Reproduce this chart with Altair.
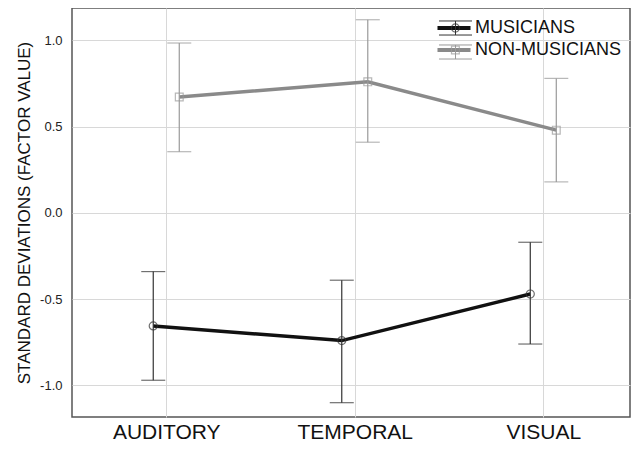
import altair as alt
import pandas as pd

categories = ["AUDITORY", "TEMPORAL", "VISUAL"]
groups = ["MUSICIANS", "NON-MUSICIANS"]
mus_mean = [-0.655, -0.74, -0.47]
mus_low = [-0.97, -1.10, -0.76]
mus_high = [-0.34, -0.39, -0.17]
non_mean = [0.672, 0.76, 0.48]
non_low = [0.355, 0.41, 0.18]
non_high = [0.985, 1.12, 0.78]
y_ticks = [-1.0, -0.5, 0.0, 0.5, 1.0]

rows = []
for i, c in enumerate(categories):
    rows.append(dict(cat=c, idx=i, group=groups[0], mean=mus_mean[i], low=mus_low[i], high=mus_high[i], off=-0.069))
    rows.append(dict(cat=c, idx=i, group=groups[1], mean=non_mean[i], low=non_low[i], high=non_high[i], off=0.069))
df = pd.DataFrame(rows)

FONT = "Liberation Sans"

base = alt.Chart(df).transform_calculate(
    pos="datum.idx + datum.off",
    g2="datum.group",
    g3="datum.group",
    g4="datum.group",
)

xenc = alt.X(
    "pos:Q",
    scale=alt.Scale(domain=[-0.5, 2.46], nice=False, zero=False),
    axis=alt.Axis(
        values=[0, 1, 2],
        labelExpr="['AUDITORY','TEMPORAL','VISUAL'][datum.value]",
        title=None,
        labelFontSize=21,
        labelColor="#111",
        labelPadding=4,
        ticks=False,
        domain=False,
        grid=True,
        gridColor="#d8d8d8",
        labelFont=FONT,
    ),
)
yscale = alt.Scale(domain=[-1.183, 1.188], nice=False, zero=False)
yaxis = alt.Axis(
    values=y_ticks,
    labelExpr="replace(format(datum.value, '.1f'), '\u2212', '-')",
    title="STANDARD DEVIATIONS (FACTOR VALUE)",
    titleFontSize=17,
    titleFontWeight="normal",
    titleColor="#111",
    titleFont=FONT,
    titlePadding=6,
    labelFontSize=13,
    labelColor="#222",
    labelFont=FONT,
    labelPadding=10,
    ticks=False,
    domain=False,
    grid=True,
    gridColor="#d8d8d8",
)

LEG = dict(
    title=None,
    orient="none",
    legendY=11,
    padding=0,
    labelFontSize=18,
    labelFont=FONT,
    labelOffset=12,
    rowPadding=4,
    symbolSize=169,
)

color_scale = alt.Scale(domain=groups, range=["#111111", "#8a8a8a"])
err_scale = alt.Scale(domain=groups, range=["#333333", "#9a9a9a"])
LINE = "M-2.54,0H2.54"
CIRCLE = "M-0.62,0A0.62,0.62 0 1,0 0.62,0A0.62,0.62 0 1,0 -0.62,0Z"
SQUARE = "M-0.6,-0.6H0.6V0.6H-0.6Z"
CAPS = "M-2.54,-1.08H2.54M-2.54,1.08H2.54M0,-1.08V1.08"

lines = base.mark_line(strokeWidth=3.5).encode(
    x=xenc,
    y=alt.Y("mean:Q", scale=yscale, axis=yaxis),
    color=alt.Color(
        "group:N",
        scale=color_scale,
        legend=alt.Legend(symbolType=LINE, symbolStrokeWidth=4, labelColor="#111", legendX=373, **LEG),
    ),
    detail="group:N",
)

rules = base.mark_rule(strokeWidth=1.2).encode(
    x="pos:Q",
    y="low:Q",
    y2="high:Q",
    stroke=alt.Stroke(
        "g2:N",
        scale=err_scale,
        legend=alt.Legend(symbolType=CAPS, symbolStrokeWidth=1, labelExpr="''", legendX=374.5, **LEG),
    ),
)
caps_low = base.mark_tick(orient="horizontal", size=24, thickness=1.2).encode(
    x="pos:Q",
    y="low:Q",
    color=alt.Color("g4:N", scale=err_scale, legend=None),
)
caps_high = base.mark_tick(orient="horizontal", size=24, thickness=1.2).encode(
    x="pos:Q",
    y="high:Q",
    color=alt.Color("g4:N", scale=err_scale, legend=None),
)
points = base.mark_point(filled=False, size=169, strokeWidth=1.2).encode(
    x="pos:Q",
    y="mean:Q",
    shape=alt.Shape(
        "g3:N",
        scale=alt.Scale(domain=groups, range=[CIRCLE, SQUARE]),
        legend=alt.Legend(
            symbolStrokeColor="#555555",
            symbolFillColor="transparent",
            symbolStrokeWidth=1.2,
            labelExpr="''",
            legendX=374.4,
            **LEG,
        ),
    ),
    stroke=alt.Stroke("g4:N", scale=err_scale, legend=None),
)

chart = (
    alt.layer(lines, rules, caps_low, caps_high, points)
    .resolve_scale(color="independent", stroke="independent", shape="independent")
    .properties(
        width=558,
        height=409,
        background="white",
        autosize=alt.AutoSizeParams(type="none"),
        padding={"left": 64, "top": 0, "right": 1, "bottom": 26},
    )
    .configure_view(stroke="#555555", strokeWidth=1.5)
)

chart.save("out.html", embed_options={"renderer": "svg", "actions": False})
